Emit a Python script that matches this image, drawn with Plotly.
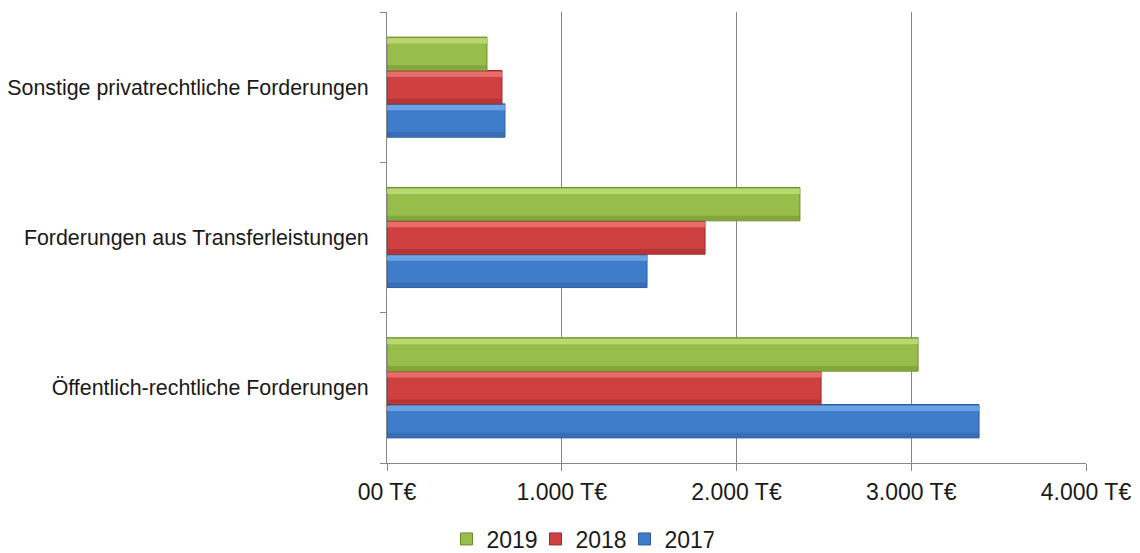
import plotly.graph_objects as go

# Receivables by type and year (in thousand euros)
categories = [
    "Öffentlich-rechtliche Forderungen",
    "Forderungen aus Transferleistungen",
    "Sonstige privatrechtliche Forderungen",
]
years = ["2017", "2018", "2019"]
values_2017 = [3388, 1488, 675]
values_2018 = [2484, 1820, 658]
values_2019 = [3039, 2363, 572]
tick_values = [0, 1000, 2000, 3000, 4000]
tick_labels = ["00 T€", "1.000 T€", "2.000 T€", "3.000 T€", "4.000 T€"]

series = [values_2017, values_2018, values_2019]
# main colour, light top edge, dark bottom edge
palettes = [
    ("#3f7dcb", "#78b0ee", "#2d5c9c"),
    ("#cf4141", "#f27b7b", "#972b2b"),
    ("#98bd4a", "#c6e27f", "#6c8a2e"),
]

bar_w = 0.222
offsets = [-0.333, -0.111, 0.111]
edge = 0.035

fig = go.Figure()
for i, (year, vals) in enumerate(zip(years, series)):
    main, light, dark = palettes[i]
    off = offsets[i]
    fig.add_trace(go.Bar(
        y=categories, x=vals, orientation="h", name=year,
        offset=off, width=bar_w,
        marker=dict(color=main, line=dict(color=dark, width=1)),
        legendrank=100 - i,
    ))
    # bevel: lighter top edge and darker bottom edge
    fig.add_trace(go.Bar(
        y=categories, x=vals, orientation="h", showlegend=False,
        offset=off + bar_w - edge - 0.008, width=edge,
        marker=dict(color=light, opacity=0.75, line=dict(width=0)),
        hoverinfo="skip",
    ))
    fig.add_trace(go.Bar(
        y=categories, x=vals, orientation="h", showlegend=False,
        offset=off + 0.006, width=edge * 0.8,
        marker=dict(color=dark, opacity=0.45, line=dict(width=0)),
        hoverinfo="skip",
    ))

axis_grey = "#868686"
fig.update_layout(
    width=1140, height=553,
    barmode="overlay",
    plot_bgcolor="white", paper_bgcolor="white",
    margin=dict(l=387, r=54, t=12, b=90, autoexpand=False),
    font=dict(family="Liberation Sans, Arial, sans-serif", color="#1a1a1a"),
    xaxis=dict(
        range=[0, 4000], tickvals=tick_values, ticktext=tick_labels,
        showgrid=True, gridcolor=axis_grey, gridwidth=1,
        zeroline=False, showline=True, linecolor=axis_grey,
        ticks="outside", ticklen=7, tickcolor=axis_grey,
        tickfont=dict(size=23), ticklabelstandoff=1, automargin=False,
    ),
    yaxis=dict(
        categoryorder="array", categoryarray=categories,
        range=[-0.5, 2.5],
        showline=True, linecolor=axis_grey, showgrid=False,
        ticks="outside", tickson="boundaries", ticklen=6, tickcolor=axis_grey,
        tickfont=dict(size=21.4), ticklabelstandoff=13, automargin=False,
    ),
    legend=dict(
        orientation="h", xref="container", yref="container",
        x=580 / 1140, xanchor="center", y=14 / 553, yanchor="middle",
        font=dict(size=23), itemwidth=30, entrywidth=44,
    ),
    showlegend=True,
)

fig.write_html("out.html")
